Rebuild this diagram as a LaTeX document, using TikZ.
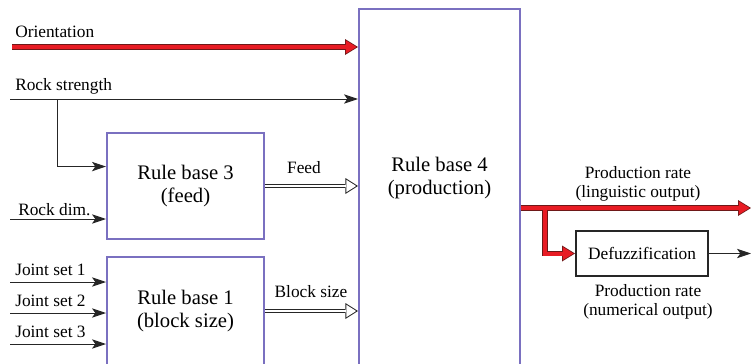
\documentclass[tikz,border=0pt]{standalone}
\usepackage{fontspec}
\setmainfont{Liberation Serif}
\usetikzlibrary{arrows.meta,calc}
\definecolor{rbcol}{RGB}{122,112,192}
\definecolor{redin}{RGB}{232,28,36}
\definecolor{redout}{RGB}{110,24,24}
\newcommand{\boxfont}{\fontsize{15.5}{17}\selectfont}
\newcommand{\lblfont}{\fontsize{13}{14}\selectfont}
\tikzstyle{rulebox} = [rectangle, draw=rbcol, line width=1.5pt, align=center, font=\boxfont, inner sep=0pt]
\tikzstyle{boxtext} = [align=center, font=\boxfont, inner sep=0pt]
\tikzstyle{lbl} = [align=center, font=\lblfont, inner sep=0pt]
\tikzstyle{thinarrow} = [line width=0.75pt, draw=black!85, -{Stealth[length=10.5pt,width=7pt,inset=2.5pt]}]
\tikzstyle{hollowarrow} = [line width=3.6pt, draw=black!85, -{Triangle[length=9.5pt,width=12pt,line width=0pt]}, postaction={draw=white, line width=2.1pt, shorten >=1.4pt, -{Triangle[length=7.3pt,width=9.2pt,line width=0pt]}}]
\tikzstyle{redouter} = [line width=4.2pt, draw=redout, -{Triangle[length=9.75pt,width=12pt,line width=0pt]}]
\tikzstyle{redinner} = [line width=3pt, draw=redin, shorten >=1.15pt, -{Triangle[length=8pt,width=9.85pt,line width=0pt]}]

\begin{document}
\begin{tikzpicture}[x=0.75pt, y=-0.75pt]
\useasboundingbox (0,0) rectangle (751,364);
\clip (0,0) rectangle (751,364);

% rule bases
\node (rbfour) [rulebox, minimum width=120.75pt, minimum height=267.75pt] at (439.5,187.5) {};
\node (rbfourtxt) [boxtext] at (439.5,178) {Rule base 4\\(production)};
\node (rbthree) [rulebox, minimum width=117.75pt, minimum height=79.5pt] at (185.5,186) {Rule base 3\\(feed)};
\node (rbone) [rulebox, minimum width=117.75pt, minimum height=81pt] at (185.5,311) {Rule base 1\\(block size)};
\node (defuzz) [rectangle, draw=black!85, line width=1.5pt, font=\lblfont, minimum width=99pt, minimum height=33.75pt] at (642,253.5) {Defuzzification};

% inputs
\coordinate (orient) at (12,47);
\coordinate (rockstr) at (10,99);
\coordinate (rsbranch) at (57,99);
\coordinate (rockdim) at (10,219);
\node (orientlbl) [lbl, anchor=west] at (15,32) {Orientation};
\node (rockstrlbl) [lbl, anchor=west] at (15,86) {Rock strength};
\node (rockdimlbl) [lbl, anchor=west] at (18,210) {Rock dim.};

\draw [redouter] (orient) -- (rbfour.west |- orient);
\draw [redinner] (orient) -- (rbfour.west |- orient);
\draw [thinarrow] (rockstr) -- (rbfour.west |- rockstr);
\draw [thinarrow] (rsbranch) |- ($(rbthree.north west)!0.32!(rbthree.south west)$);
\draw [thinarrow] (rockdim) -- (rbthree.west |- rockdim);

\foreach \i/\y in {1/282,2/313,3/344} {
  \coordinate (js\i) at (10,\y);
  \node (jslbl\i) [lbl, anchor=west] at (15,\y-12) {Joint set \i};
  \draw [thinarrow] (js\i) -- (rbone.west |- js\i);
}

% intermediate outputs
\draw [hollowarrow] (rbthree.east) -- (rbfour.west |- rbthree.east);
\draw [hollowarrow] (rbone.east) -- (rbfour.west |- rbone.east);
\node (feedlbl) [lbl] at (304,168) {Feed};
\node (blocklbl) [lbl] at (311,292) {Block size};

% production rate
\coordinate (prodout) at (rbfour.east |- 0,208);
\coordinate (split) at (545,208);
\coordinate (lingout) at (751,208);
\coordinate (numout) at (751,253.5);
\draw [redouter] (prodout) -- (lingout);
\draw [redouter] (split) |- (defuzz.west);
\draw [redinner] (prodout) -- (lingout);
\draw [redinner] (split) |- (defuzz.west);
\draw [thinarrow] (defuzz.east) -- (numout);
\node (linglbl) [lbl] at (638,184) {Production rate\\(linguistic output)};
\node (numlbl) [lbl] at (648,302) {Production rate\\(numerical output)};
\end{tikzpicture}
\end{document}
